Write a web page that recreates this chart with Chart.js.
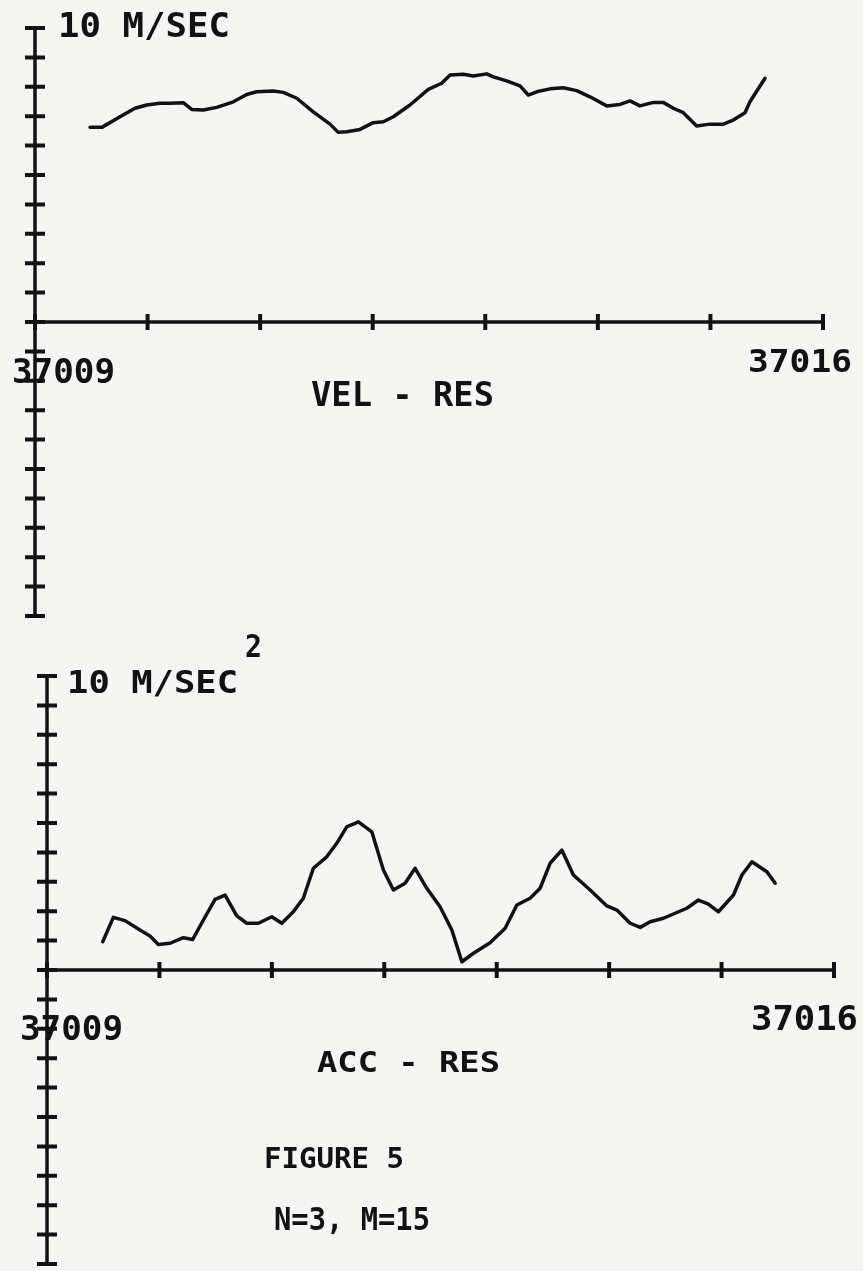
<!DOCTYPE html>
<html><head><meta charset="utf-8">
<script src="https://cdn.jsdelivr.net/npm/chart.js@4.4.0/dist/chart.umd.min.js"></script>
<style>
html,body{margin:0;padding:0;background:#f5f5f3;}
#wrap{position:relative;width:863px;height:1271px;overflow:hidden;background:#f5f5f3;}
canvas{position:absolute;left:0;}
</style></head><body>
<div id="wrap">
<canvas id="c1" width="863" height="620" style="top:0;width:863px;height:620px"></canvas>
<canvas id="c2" width="863" height="651" style="top:620px;width:863px;height:651px"></canvas>
</div>
<script>
// ---- data ----
const dayTicks = [37009, 37010, 37011, 37012, 37013, 37014, 37015, 37016];
const valueTicks = [-10,-9,-8,-7,-6,-5,-4,-3,-2,-1,0,1,2,3,4,5,6,7,8,9,10];
const startLabel = "37009";
const endLabel = "37016";

const velDays = [37009.489,37009.593,37009.755,37009.888,37009.992,37010.110,37010.199,37010.317,37010.392,37010.495,37010.614,37010.762,37010.881,37010.969,37011.117,37011.206,37011.325,37011.472,37011.621,37011.694,37011.769,37011.887,37012.005,37012.094,37012.183,37012.331,37012.494,37012.613,37012.687,37012.805,37012.894,37013.013,37013.071,37013.190,37013.308,37013.382,37013.457,37013.575,37013.693,37013.812,37013.930,37014.079,37014.197,37014.286,37014.374,37014.493,37014.581,37014.670,37014.759,37014.878,37014.996,37015.114,37015.203,37015.307,37015.351,37015.485];
const velValues = [6.62,6.62,6.98,7.27,7.38,7.44,7.44,7.46,7.23,7.21,7.30,7.49,7.74,7.83,7.86,7.81,7.61,7.15,6.73,6.45,6.47,6.55,6.78,6.81,6.98,7.38,7.91,8.12,8.40,8.43,8.37,8.44,8.34,8.20,8.03,7.72,7.83,7.93,7.97,7.87,7.66,7.35,7.40,7.52,7.35,7.47,7.47,7.27,7.12,6.67,6.73,6.73,6.87,7.12,7.49,8.29];

const accDays = [37009.496,37009.590,37009.694,37009.827,37009.916,37009.990,37010.094,37010.213,37010.296,37010.391,37010.495,37010.584,37010.688,37010.777,37010.880,37010.999,37011.088,37011.191,37011.280,37011.369,37011.488,37011.577,37011.666,37011.770,37011.889,37011.992,37012.081,37012.185,37012.274,37012.378,37012.496,37012.601,37012.690,37012.793,37012.941,37013.075,37013.179,37013.297,37013.386,37013.475,37013.579,37013.682,37013.831,37013.980,37014.069,37014.187,37014.276,37014.365,37014.483,37014.691,37014.794,37014.883,37014.972,37015.106,37015.181,37015.270,37015.403,37015.477];
const accValues = [0.96,1.79,1.68,1.36,1.16,0.87,0.91,1.10,1.04,1.70,2.40,2.55,1.84,1.59,1.59,1.81,1.59,1.98,2.44,3.46,3.85,4.31,4.87,5.04,4.70,3.40,2.72,2.95,3.46,2.78,2.15,1.36,0.28,0.57,0.93,1.42,2.21,2.44,2.78,3.63,4.08,3.23,2.72,2.18,2.04,1.59,1.45,1.64,1.76,2.10,2.38,2.24,1.98,2.55,3.23,3.68,3.34,2.95];

const INK = '#121212';

function fitText(ctx, txt, l, t, r, b) {
  const capH = b - t;
  const size = capH / 0.73;
  ctx.save();
  ctx.fillStyle = INK;
  ctx.font = 'bold ' + size + 'px "DejaVu Sans Mono"';
  ctx.textBaseline = 'alphabetic';
  ctx.textAlign = 'left';
  const w = ctx.measureText(txt).width;
  ctx.translate(l, b);
  ctx.scale((r - l) / w, 1);
  ctx.fillText(txt, 0, 0);
  ctx.restore();
}

function axesPlugin(texts, offY) {
  return {
    id: 'plotterAxes',
    afterDatasetsDraw(chart) {
      const ctx = chart.ctx;
      const xs = chart.scales.x, ys = chart.scales.y;
      const x0 = xs.getPixelForValue(dayTicks[0]);
      const x1 = xs.getPixelForValue(dayTicks[dayTicks.length - 1]);
      const yTop = ys.getPixelForValue(valueTicks[valueTicks.length - 1]);
      const yBot = ys.getPixelForValue(valueTicks[0]);
      const yZero = ys.getPixelForValue(0);
      ctx.save();
      ctx.strokeStyle = INK;
      ctx.lineWidth = 3.5;
      ctx.lineCap = 'butt';
      ctx.beginPath();
      ctx.moveTo(x0, yTop); ctx.lineTo(x0, yBot);
      ctx.moveTo(x0, yZero); ctx.lineTo(x1, yZero);
      ctx.stroke();
      ctx.lineWidth = 4;
      ctx.beginPath();
      valueTicks.forEach(v => {
        const p = ys.getPixelForValue(v);
        ctx.moveTo(x0 - 10, p); ctx.lineTo(x0 + 10, p);
      });
      dayTicks.forEach(d => {
        const p = xs.getPixelForValue(d);
        ctx.moveTo(p, yZero - 8); ctx.lineTo(p, yZero + 8);
      });
      ctx.stroke();
      ctx.restore();
      texts.forEach(t => fitText(ctx, t[0], t[1], t[2] - offY, t[3], t[4] - offY));
    }
  };
}

function makeChart(id, days, values, padding, texts, offY) {
  const pts = days.map((d, i) => ({x: d, y: values[i]}));
  return new Chart(document.getElementById(id), {
    type: 'line',
    data: { datasets: [{ data: pts, borderColor: INK, borderWidth: 3.5, borderJoinStyle: 'round', borderCapStyle: 'round', pointRadius: 0, tension: 0, fill: false, clip: false }] },
    options: {
      responsive: false, animation: false, devicePixelRatio: 1,
      layout: { padding: padding },
      plugins: { legend: { display: false }, tooltip: { enabled: false } },
      scales: {
        x: { type: 'linear', min: dayTicks[0], max: dayTicks[dayTicks.length - 1], display: false },
        y: { type: 'linear', min: valueTicks[0], max: valueTicks[valueTicks.length - 1], display: false }
      }
    },
    plugins: [axesPlugin(texts, offY)]
  });
}

makeChart('c1', velDays, velValues, {left: 35, right: 40, top: 28, bottom: 4}, [
  ['10 M/SEC', 58, 13, 230, 37],
  [startLabel, 12, 358, 115, 383],
  [endLabel, 748, 349, 852, 372],
  ['VEL - RES', 311, 382, 494, 406]
], 0);

makeChart('c2', accDays, accValues, {left: 47, right: 29, top: 56, bottom: 7}, [
  ['2', 245, 634, 262, 657],
  ['10 M/SEC', 67, 670, 238, 693],
  [startLabel, 20, 1015, 123, 1040],
  [endLabel, 751, 1006, 858, 1030],
  ['ACC - RES', 317, 1051, 500, 1072],
  ['FIGURE 5', 264, 1147, 404, 1168],
  ['N=3, M=15', 274, 1207, 430, 1230]
], 620);
</script>
</body></html>
